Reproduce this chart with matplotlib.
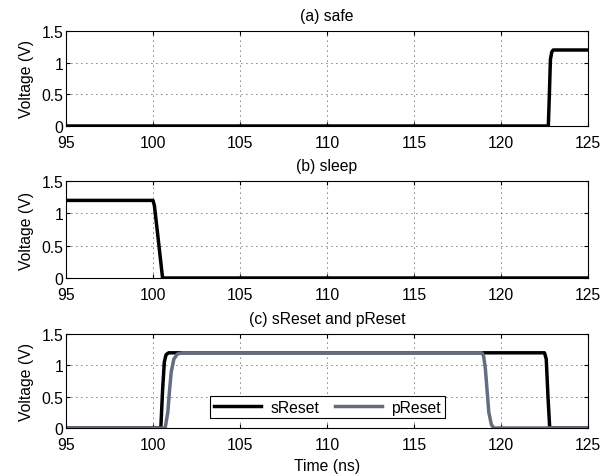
import matplotlib
matplotlib.use("Agg")
import matplotlib.pyplot as plt

plt.rcParams['font.family'] = ['Liberation Sans', 'DejaVu Sans']

# Data (time in ns, voltage in V)
safe_t = [95, 122.72, 122.78, 122.84, 122.92, 123.0, 125]
safe_v = [0, 0, 0.5, 1.05, 1.17, 1.2, 1.2]

sleep_t = [95, 100.0, 100.08, 100.3, 100.55, 125]
sleep_v = [1.2, 1.2, 1.12, 0.6, 0, 0]

sreset_t = [95, 100.45, 100.55, 100.65, 100.75, 100.9, 122.5, 122.6, 122.7, 122.8, 125]
sreset_v = [0, 0, 0.6, 1.05, 1.17, 1.2, 1.2, 1.1, 0.5, 0, 0]

preset_t = [95, 100.7, 100.85, 100.95, 101.05, 101.2, 101.4, 101.7,
            118.9, 119.0, 119.1, 119.2, 119.3, 119.45, 119.6, 125]
preset_v = [0, 0, 0.25, 0.6, 0.9, 1.1, 1.18, 1.2,
            1.2, 1.15, 0.95, 0.6, 0.25, 0.05, 0, 0]

xticks = [95, 100, 105, 110, 115, 120, 125]
yticks = [0, 0.5, 1, 1.5]
yticklabels = ['0', '0.5', '1', '1.5']
titles = ['(a) safe', '(b) sleep', '(c) sReset and pReset']

FS = 11.3
fig = plt.figure(figsize=(6.14, 4.77), dpi=100)
left, width = 66 / 614, 522 / 614
boxes = [(1 - 127 / 477, 95 / 477), (1 - 279 / 477, 97 / 477), (1 - 429 / 477, 94 / 477)]
axes = [fig.add_axes([left, b, width, h]) for b, h in boxes]

gray = '#656c80'
axes[0].plot(safe_t, safe_v, color='black', lw=2.5)
axes[1].plot(sleep_t, sleep_v, color='black', lw=2.5)
axes[2].plot(sreset_t, sreset_v, color='black', lw=2.5, label='sReset')
axes[2].plot(preset_t, preset_v, color=gray, lw=2.5, label='pReset')

for ax, title in zip(axes, titles):
    ax.set_xlim(95, 125)
    ax.set_ylim(0, 1.5)
    ax.set_xticks(xticks)
    ax.set_xticklabels([str(x) for x in xticks])
    ax.set_yticks(yticks)
    ax.set_yticklabels(yticklabels)
    ax.tick_params(direction='in', top=True, right=True, labelsize=FS, length=3)
    ax.tick_params(axis='x', pad=6.5)
    ax.tick_params(axis='y', pad=2)
    ax.grid(True, linestyle=(0, (1, 5)), color='black', linewidth=0.6)
    ax.set_ylabel('Voltage (V)', fontsize=FS, labelpad=5)
    ax.set_title(title, fontsize=FS, pad=8)
    for s in ax.spines.values():
        s.set_linewidth(0.8)

axes[2].set_xlabel('Time (ns)', fontsize=FS, labelpad=4)
leg = axes[2].legend(loc='center', bbox_to_anchor=(0.501, 0.223), ncol=2,
                     fontsize=FS, handlelength=3.0, fancybox=False,
                     edgecolor='black', framealpha=1, borderpad=0.25,
                     columnspacing=1.0, handletextpad=0.6)
leg.get_frame().set_linewidth(0.8)

fig.savefig('out.png', dpi=100)
